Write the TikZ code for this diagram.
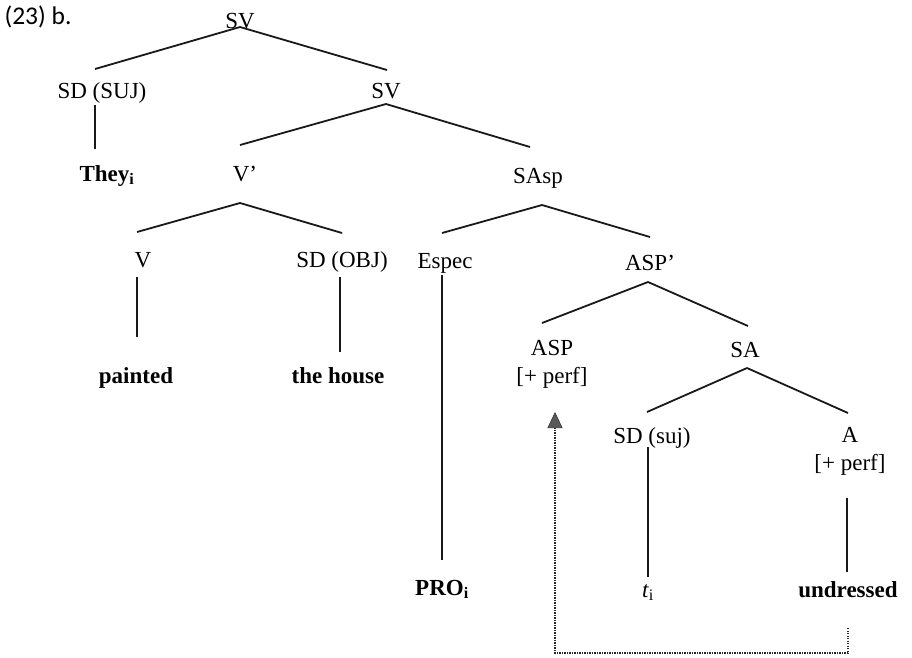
\documentclass[tikz,border=0pt]{standalone}
\usepackage{fontspec}
\setmainfont{Liberation Serif}
\newfontfamily\labfont{Carlito}
\usetikzlibrary{arrows.meta}
\begin{document}
\begin{tikzpicture}[x=1pt,y=-1pt,
  lbl/.style={anchor=base,inner sep=0pt,align=center,font=\fontsize{23}{27.5}\selectfont},
  wrd/.style={lbl,font=\fontsize{23}{27.5}\selectfont\bfseries},
  branch/.style={line width=1.8pt,black!90},
  trace/.style={line width=1.5pt,dash pattern=on 1.3pt off 1.2pt,black!85,
    -{Triangle[length=16pt,width=15pt,fill=black!65,color=black!80,line width=0.6pt]}}]
\useasboundingbox (0,0) rectangle (912,657);
% labels
\node[anchor=base,inner sep=0pt,font=\labfont\fontsize{25.5}{28}\selectfont] (lab) at (38,24) {(23) b.};
\node[lbl] (SV0) at (240,28) {SV};
\node[lbl] (SDsuj) at (102,98) {SD (SUJ)};
\node[lbl] (SV1) at (386,98) {SV};
\node[wrd] (They) at (107,181) {They\textsubscript{i}};
\node[lbl] (Vbar) at (245,181) {V’};
\node[lbl] (SAsp) at (538,183) {SAsp};
\node[lbl] (V) at (143,267) {V};
\node[lbl] (SDobj) at (342,267) {SD (OBJ)};
\node[lbl] (Espec) at (445,268) {Espec};
\node[lbl] (ASPbar) at (650,270) {ASP’};
\node[wrd] (painted) at (136,383) {painted};
\node[wrd] (house) at (338,383) {the house};
\node[lbl] (ASP) at (552,383) {ASP\\{[}+ perf{]}};
\node[lbl] (SA) at (745,357) {SA};
\node[lbl] (SDs) at (652,443) {SD (suj)};
\node[lbl] (A) at (850,470) {A\\{[}+ perf{]}};
\node[wrd] (PRO) at (442,595) {PRO\textsubscript{i}};
\node[lbl] (ti) at (648,597) {\textit{t}\textsubscript{i}};
\node[wrd] (undr) at (848,597) {undressed};
% branches
\draw[branch] ([yshift=1pt]SV0.base) -- ([xshift=-7pt,yshift=29pt]SDsuj.base);
\draw[branch] ([yshift=1pt]SV0.base) -- ([xshift=1pt,yshift=28pt]SV1.base);
\draw[branch] ([xshift=-7pt,yshift=-7pt]SDsuj.base) -- ([xshift=-12pt,yshift=32pt]They.base);
\draw[branch] ([yshift=-6pt]SV1.base) -- ([xshift=-5pt,yshift=36pt]Vbar.base);
\draw[branch] ([yshift=-6pt]SV1.base) -- ([xshift=-8pt,yshift=36pt]SAsp.base);
\draw[branch] ([xshift=-5pt,yshift=-22pt]Vbar.base) -- ([xshift=-6pt,yshift=35pt]V.base);
\draw[branch] ([xshift=-5pt,yshift=-22pt]Vbar.base) -- ([yshift=34pt]SDobj.base);
\draw[branch] ([xshift=-6pt,yshift=-10pt]V.base) -- ([xshift=1pt,yshift=46pt]painted.base);
\draw[branch] ([xshift=-2pt,yshift=-10pt]SDobj.base) -- ([xshift=2pt,yshift=31pt]house.base);
\draw[branch] ([xshift=4pt,yshift=-22pt]SAsp.base) -- ([xshift=-3pt,yshift=35pt]Espec.base);
\draw[branch] ([xshift=4pt,yshift=-22pt]SAsp.base) -- ([yshift=33pt]ASPbar.base);
\draw[branch,line width=1.5pt] ([xshift=-3pt,yshift=-7pt]Espec.base) -- ([yshift=35pt]PRO.base);
\draw[branch] ([xshift=-2pt,yshift=-12pt]ASPbar.base) -- ([xshift=-10pt,yshift=60pt]ASP.base);
\draw[branch] ([xshift=-2pt,yshift=-12pt]ASPbar.base) -- ([xshift=3pt,yshift=31pt]SA.base);
\draw[branch] ([xshift=2pt,yshift=-11pt]SA.base) -- ([xshift=-5pt,yshift=31pt]SDs.base);
\draw[branch] ([xshift=2pt,yshift=-11pt]SA.base) -- ([xshift=-2pt,yshift=57pt]A.base);
\draw[branch,line width=1.5pt] ([xshift=-4pt,yshift=-4pt]SDs.base) -- ([yshift=20pt]ti.base);
\draw[branch,line width=1.5pt] ([xshift=-3pt,yshift=-28pt]A.base) -- ([xshift=-1pt,yshift=25pt]undr.base);
% movement
\draw[trace] ([yshift=-31pt]undr.base) -- ++(0,25) -| ([xshift=3pt,yshift=-29pt]ASP.base);
\end{tikzpicture}
\end{document}
